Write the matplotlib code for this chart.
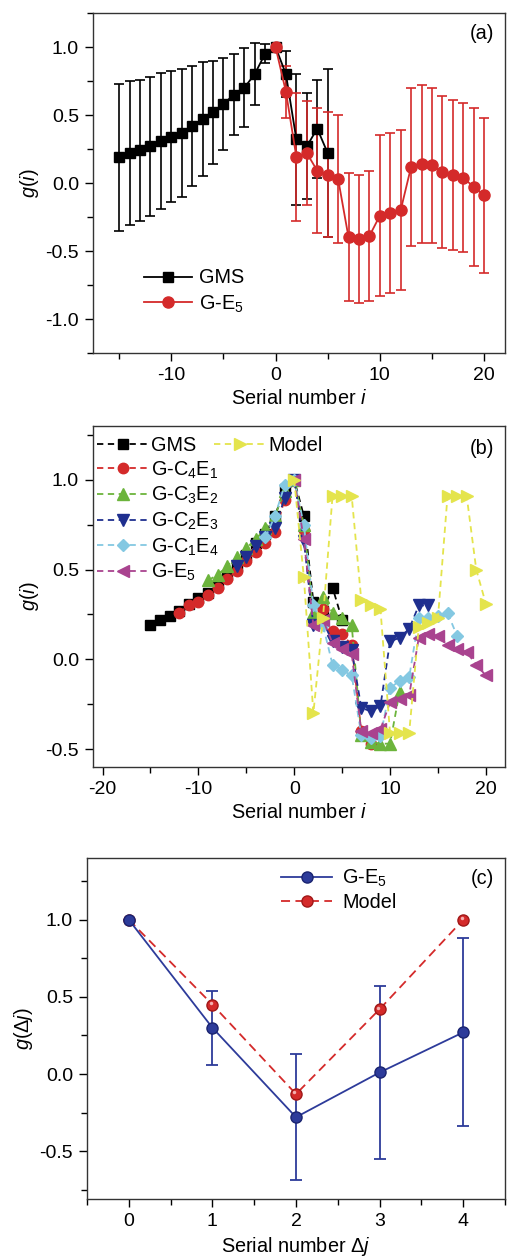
import matplotlib
matplotlib.use("Agg")
import matplotlib.pyplot as plt
from matplotlib.ticker import MultipleLocator
from matplotlib.lines import Line2D
import matplotlib.transforms as mtrans

plt.rcParams['font.family'] = ['Liberation Sans', 'DejaVu Sans']
plt.rcParams['mathtext.fontset'] = 'custom'
plt.rcParams['mathtext.rm'] = 'Liberation Sans'
plt.rcParams['mathtext.it'] = 'Liberation Sans:italic'
plt.rcParams['axes.linewidth'] = 1.0
plt.rcParams['axes.unicode_minus'] = False

# ---- panel (a) data ----
gms_x = list(range(-15, 6))
gms_y = [0.19, 0.22, 0.24, 0.27, 0.31, 0.34, 0.37, 0.42, 0.47, 0.52, 0.58,
         0.65, 0.70, 0.80, 0.95, 1.00, 0.80, 0.32, 0.27, 0.40, 0.22]
gms_err = [0.54, 0.53, 0.52, 0.51, 0.50, 0.48, 0.47, 0.44, 0.42, 0.38, 0.34,
           0.30, 0.29, 0.23, 0.07, 0.00, 0.17, 0.48, 0.39, 0.36, 0.62]

ge5_x = list(range(0, 21))
ge5_y = [1.00, 0.67, 0.19, 0.22, 0.09, 0.06, 0.03, -0.40, -0.41, -0.39, -0.24,
         -0.22, -0.20, 0.12, 0.14, 0.13, 0.08, 0.06, 0.04, -0.03, -0.09]
ge5_err = [0.00, 0.19, 0.47, 0.38, 0.46, 0.46, 0.47, 0.47, 0.47, 0.48, 0.59,
           0.59, 0.59, 0.58, 0.58, 0.57, 0.56, 0.55, 0.55, 0.58, 0.57]

# ---- panel (b) data ----
c4e1_x = list(range(-12, 9))
c4e1_y = [0.26, 0.30, 0.32, 0.36, 0.40, 0.45, 0.49, 0.55, 0.60, 0.65, 0.71, 0.89,
          1.00, 0.72, 0.22, 0.28, 0.16, 0.14, 0.08, -0.40, -0.47]
c3e2_x = list(range(-9, 12))
c3e2_y = [0.44, 0.47, 0.52, 0.57, 0.62, 0.67, 0.73, 0.80, 0.94,
          1.00, 0.75, 0.26, 0.35, 0.26, 0.23, 0.19, -0.42, -0.46, -0.47, -0.47, -0.18]
c2e3_x = list(range(-6, 15))
c2e3_y = [0.52, 0.57, 0.63, 0.68, 0.73, 0.90,
          1.00, 0.66, 0.19, 0.21, 0.10, 0.07, 0.05, -0.27, -0.29, -0.26,
          0.10, 0.12, 0.17, 0.30, 0.30]
c1e4_x = list(range(-3, 18))
c1e4_y = [0.68, 0.80, 0.97,
          1.00, 0.75, 0.30, 0.19, -0.03, -0.06, -0.09, -0.42, -0.44, -0.43,
          -0.16, -0.12, -0.10, 0.23, 0.23, 0.24, 0.26, 0.13]
model_x = list(range(0, 21))
model_y = [1.00, 0.46, -0.30, 0.23, 0.91, 0.91, 0.91, 0.33, 0.30, 0.28, -0.41,
           -0.41, -0.41, 0.18, 0.20, 0.23, 0.91, 0.91, 0.91, 0.50, 0.31]

# ---- panel (c) data ----
dj = [0, 1, 2, 3, 4]
ge5_c = [1.00, 0.30, -0.28, 0.01, 0.27]
ge5_c_err = [0.00, 0.24, 0.41, 0.56, 0.61]
model_c = [1.00, 0.45, -0.13, 0.42, 1.00]

RED = '#d42a2a'
GREEN = '#6cb43c'
NAVY = '#1f2f8f'
CYAN = '#84c8e2'
MAGENTA = '#a9438f'
YELLOW = '#e4e44c'
BLUE_C = '#2d3b9a'

FS = 14.3   # labels / legend
TFS = 14    # tick labels

W, H = 507, 1256
fig = plt.figure(figsize=(W / 100, H / 100), dpi=100)


def style(ax):
    ax.tick_params(which='both', direction='out', top=False, right=False,
                   labelsize=TFS, width=1.0)
    ax.tick_params(which='major', length=6, pad=4)
    ax.tick_params(which='minor', length=4)
    for s in ax.spines.values():
        s.set_color('#333333')


# ===== (a) =====
axa = fig.add_axes([93 / W, 1 - 353 / H, 412 / W, 340 / H])
axa.errorbar(gms_x, gms_y, yerr=gms_err, color='black', marker='s', ms=6.5,
             lw=1.3, elinewidth=1.2, capsize=3.5, capthick=1.2)
axa.errorbar(ge5_x, ge5_y, yerr=ge5_err, color=RED, marker='o', ms=8,
             lw=1.3, elinewidth=1.2, capsize=3.5, capthick=1.2)
axa.set_xlim(-17.5, 22)
axa.set_ylim(-1.25, 1.25)
axa.xaxis.set_major_locator(MultipleLocator(10))
axa.xaxis.set_minor_locator(MultipleLocator(5))
axa.yaxis.set_major_locator(MultipleLocator(0.5))
axa.yaxis.set_minor_locator(MultipleLocator(0.25))
axa.set_yticks([-1.0, -0.5, 0.0, 0.5, 1.0])
axa.set_xlabel('Serial number $i$', fontsize=FS, labelpad=4)
axa.set_ylabel('$g$($i$)', fontsize=FS, labelpad=3)
axa.text(0.975, 0.94, '(a)', transform=axa.transAxes, fontsize=FS,
         ha='right', va='center')
style(axa)
ha_ = [Line2D([], [], color='black', marker='s', ms=6.5, lw=1.3),
       Line2D([], [], color=RED, marker='o', ms=8, lw=1.3)]
axa.legend(ha_, ['GMS', 'G-E$_5$'], loc='lower left',
           bbox_to_anchor=(0.08, 0.06), frameon=False, fontsize=FS,
           handlelength=2.4, handletextpad=0.4, labelspacing=0.3)

# ===== (b) =====
axb = fig.add_axes([93 / W, 1 - 767 / H, 412 / W, 341 / H])
dash = (3.5, 2.5)
series_b = [
    (gms_x, gms_y, 'black', 's', 6.5, 'GMS'),
    (c4e1_x, c4e1_y, RED, 'o', 7.5, 'G-C$_4$E$_1$'),
    (c3e2_x, c3e2_y, GREEN, '^', 8, 'G-C$_3$E$_2$'),
    (c2e3_x, c2e3_y, NAVY, 'v', 8, 'G-C$_2$E$_3$'),
    (c1e4_x, c1e4_y, CYAN, 'D', 6.5, 'G-C$_1$E$_4$'),
    (ge5_x, ge5_y, MAGENTA, '<', 8, 'G-E$_5$'),
]
handles = []
for xs, ys, col, mk, ms, lab in series_b:
    h, = axb.plot(xs, ys, color=col, marker=mk, ms=ms, lw=1.3,
                  dashes=dash, label=lab)
    handles.append(h)
hm, = axb.plot(model_x, model_y, color=YELLOW, marker='>', ms=8, lw=1.3,
               dashes=dash, label='Model')
axb.set_xlim(-21, 22)
axb.set_ylim(-0.6, 1.3)
axb.xaxis.set_major_locator(MultipleLocator(10))
axb.xaxis.set_minor_locator(MultipleLocator(5))
axb.yaxis.set_major_locator(MultipleLocator(0.5))
axb.yaxis.set_minor_locator(MultipleLocator(0.25))
axb.set_xlabel('Serial number $i$', fontsize=FS, labelpad=4)
axb.set_ylabel('$g$($i$)', fontsize=FS, labelpad=3)
axb.text(0.975, 0.935, '(b)', transform=axb.transAxes, fontsize=FS,
         ha='right', va='center')
style(axb)
leg1 = axb.legend(handles=handles, loc='upper left', bbox_to_anchor=(-0.015, 1.0),
                  frameon=False, fontsize=FS, handlelength=2.6,
                  handletextpad=0.15, labelspacing=0.22, borderaxespad=0.1)
axb.add_artist(leg1)
axb.legend(handles=[hm], loc='upper left', bbox_to_anchor=(0.27, 1.0),
           frameon=False, fontsize=FS, handlelength=2.6,
           handletextpad=0.15, borderaxespad=0.1)

# ===== (c) =====
axc = fig.add_axes([87 / W, 1 - 1199 / H, 418 / W, 341 / H])
axc.errorbar(dj, ge5_c, yerr=ge5_c_err, color=BLUE_C, marker='o', ms=8,
             mec='#1a2470', lw=1.3, elinewidth=1.3, capsize=4.5, capthick=1.3)
axc.plot(dj, model_c, color=RED, marker='o', ms=8, mec='#a01818', lw=1.3,
         dashes=(5, 3))
# small highlights to suggest the shaded balls
hl = mtrans.offset_copy(axc.transData, fig=fig, x=-1.2, y=1.2, units='points')
axc.plot(dj, ge5_c, ls='none', marker='o', ms=2.5, color='#aab4e8', mew=0,
         transform=hl)
axc.plot(dj, model_c, ls='none', marker='o', ms=2.5, color='#f4b0b0', mew=0,
         transform=hl)
axc.set_xlim(-0.5, 4.5)
axc.set_ylim(-0.81, 1.4)
axc.xaxis.set_major_locator(MultipleLocator(1))
axc.xaxis.set_minor_locator(MultipleLocator(0.5))
axc.yaxis.set_major_locator(MultipleLocator(0.5))
axc.yaxis.set_minor_locator(MultipleLocator(0.25))
axc.set_xlabel(r'Serial number $\Delta$$j$', fontsize=FS, labelpad=4)
axc.set_ylabel(r'$g$($\Delta$$j$)', fontsize=FS, labelpad=3)
axc.text(0.975, 0.94, '(c)', transform=axc.transAxes, fontsize=FS,
         ha='right', va='center')
style(axc)
hc = [Line2D([], [], color=BLUE_C, marker='o', ms=8, mec='#1a2470', lw=1.3),
      Line2D([], [], color=RED, marker='o', ms=8, mec='#a01818', lw=1.3,
             dashes=(5, 3))]
axc.legend(hc, ['G-E$_5$', 'Model'], loc='upper left',
           bbox_to_anchor=(0.44, 1.0), frameon=False, fontsize=FS,
           handlelength=2.6, handletextpad=0.5, labelspacing=0.2,
           borderaxespad=0.1)

fig.savefig('out.png', dpi=100)
